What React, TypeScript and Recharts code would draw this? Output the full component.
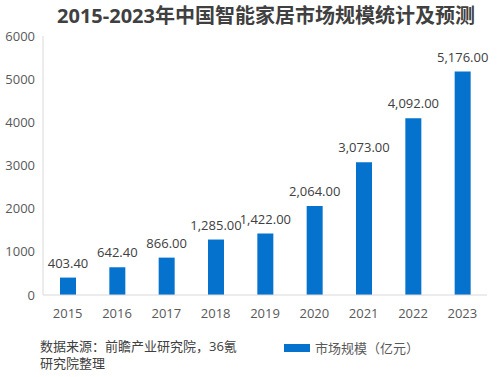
import React from "react";
import { BarChart, Bar, XAxis, YAxis, LabelList, Legend } from "recharts";

const years = ["2015", "2016", "2017", "2018", "2019", "2020", "2021", "2022", "2023"];
const marketSize = [403.4, 642.4, 866, 1285, 1422, 2064, 3073, 4092, 5176];
const yTicks = [0, 1000, 2000, 3000, 4000, 5000, 6000];
const title = "2015-2023年中国智能家居市场规模统计及预测";
const seriesName = "市场规模（亿元）";
const sourceLines = ["数据来源：前瞻产业研究院，36氪", "研究院整理"];

const data = years.map((y, i) => ({ year: y, value: marketSize[i] }));

const FONT = '"Open Sans", "Noto Sans CJK SC", "Noto Sans", sans-serif';
const BLUE = "#0573CE";

const fmt = (v: any) =>
  Number(v).toLocaleString("en-US", { minimumFractionDigits: 2, maximumFractionDigits: 2 });

const LegendContent = () => (
  <div style={{ display: "flex", alignItems: "center", fontFamily: FONT, fontSize: 13, color: "#595959" }}>
    <span style={{ display: "inline-block", width: 26, height: 8, background: BLUE, marginRight: 5 }} />
    <span>{seriesName}</span>
  </div>
);

export default function App() {
  return (
    <div style={{ position: "absolute", left: 0, top: 0, width: 501, height: 377, background: "#fff", fontFamily: FONT }}>
      <div
        style={{
          position: "absolute",
          left: 0,
          top: 3,
          width: 532,
          textAlign: "center",
          fontSize: 20,
          fontWeight: 700,
          color: "#404040",
          lineHeight: "26px",
        }}
      >
        {title}
      </div>
      <BarChart width={501} height={377} data={data} margin={{ top: 36, right: 14, left: 0, bottom: 32 }}>
        <XAxis
          dataKey="year"
          axisLine={{ stroke: "#d9d9d9" }}
          tickLine={false}
          tickMargin={8}
          tick={{ fill: "#595959", fontSize: 13, fontFamily: FONT }}
          height={30}
        />
        <YAxis
          domain={[0, 6000]}
          ticks={yTicks}
          width={43}
          axisLine={{ stroke: "#d9d9d9" }}
          tickLine={false}
          tick={{ fill: "#595959", fontSize: 13, fontFamily: FONT }}
          interval={0}
        />
        <Legend
          content={<LegendContent />}
          wrapperStyle={{ position: "absolute", left: 284, top: 338, width: 200, height: 20 }}
        />
        <Bar dataKey="value" name={seriesName} fill={BLUE} barSize={16} isAnimationActive={false}>
          <LabelList
            dataKey="value"
            position="top"
            offset={10}
            formatter={fmt}
            style={{ fill: "#404040", fontSize: 13, fontFamily: FONT }}
          />
        </Bar>
      </BarChart>
      <div
        style={{
          position: "absolute",
          left: 40,
          top: 338,
          fontSize: 13,
          lineHeight: "17px",
          color: "#404040",
        }}
      >
        {sourceLines.map((l, i) => (
          <div key={i}>{l}</div>
        ))}
      </div>
    </div>
  );
}
